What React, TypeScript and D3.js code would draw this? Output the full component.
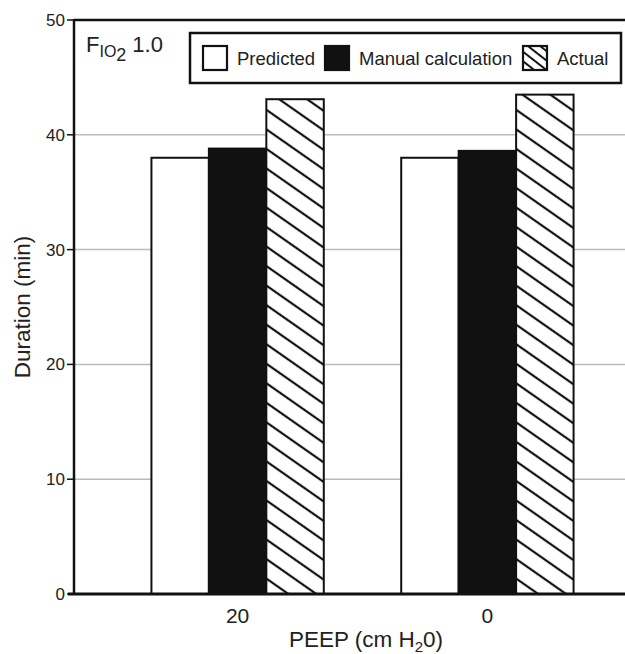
import React from "react";
import * as d3 from "d3";

const categories = ["20", "0"];
const seriesNames = ["Predicted", "Manual calculation", "Actual"];
const predicted = [38.0, 38.0];
const manual = [38.8, 38.6];
const actual = [43.1, 43.5];
const yTicks = [0, 10, 20, 30, 40, 50];

const W = 625;
const H = 654;
const font = "'Liberation Sans', Arial, Helvetica, sans-serif";

const App = () => {
  const left = 74;
  const top = 20;
  const bottom = 594;

  const y = d3.scaleLinear().domain([0, 50]).range([bottom, top]);
  const x0 = d3
    .scaleBand()
    .domain(categories)
    .range([left, 651])
    .paddingInner(0.31)
    .paddingOuter(0.31);
  const x1 = d3.scaleBand().domain(seriesNames).range([0, x0.bandwidth()]);

  const values = [predicted, manual, actual];
  const fills = ["#fff", "#111", "url(#hatch)"];

  const rows = categories.map((c, ci) =>
    seriesNames.map((s, si) => ({ c, s, si, v: values[si][ci] }))
  );

  const legend = [
    { label: seriesNames[0], x: 203, fill: "#fff" },
    { label: seriesNames[1], x: 325, fill: "#111" },
    { label: seriesNames[2], x: 523, fill: "url(#hatchSmall)" },
  ];

  return (
    <svg
      width={W}
      height={H}
      style={{ position: "absolute", left: 0, top: 0, background: "#fff" }}
      fontFamily={font}
    >
      <defs>
        <pattern
          id="hatch"
          patternUnits="userSpaceOnUse"
          width={16}
          height={16}
          patternTransform="rotate(35)"
        >
          <rect width={16} height={16} fill="#fff" />
          <line x1={0} y1={8} x2={16} y2={8} stroke="#111" strokeWidth={2.2} />
        </pattern>
        <pattern
          id="hatchSmall"
          patternUnits="userSpaceOnUse"
          width={7.5}
          height={7.5}
          patternTransform="rotate(38)"
        >
          <rect width={7.5} height={7.5} fill="#fff" />
          <line x1={0} y1={3.75} x2={7.5} y2={3.75} stroke="#111" strokeWidth={2} />
        </pattern>
      </defs>

      {/* grid */}
      {yTicks
        .filter((t) => t > 0 && t < 50)
        .map((t) => (
          <line
            key={t}
            x1={left}
            x2={W}
            y1={y(t)}
            y2={y(t)}
            stroke="#bbb"
            strokeWidth={1.5}
          />
        ))}

      {/* bars */}
      {rows.map((r, i) => (
        <g key={i} transform={`translate(${x0(categories[i])},0)`}>
          {r.map((d) => (
            <rect
              key={d.s}
              x={x1(d.s)}
              y={y(d.v)}
              width={x1.bandwidth()}
              height={y(0) - y(d.v)}
              fill={fills[d.si]}
              stroke="#111"
              strokeWidth={2}
            />
          ))}
        </g>
      ))}

      {/* frame */}
      <line x1={left} x2={W} y1={top} y2={top} stroke="#111" strokeWidth={2.5} />
      <line x1={left} x2={left} y1={top - 1} y2={bottom} stroke="#111" strokeWidth={2.5} />
      <line x1={left - 6} x2={W} y1={bottom} y2={bottom} stroke="#111" strokeWidth={3} />

      {/* y ticks */}
      {yTicks.map((t) => (
        <g key={t}>
          <line x1={left - 7} x2={left} y1={y(t)} y2={y(t)} stroke="#111" strokeWidth={1.5} />
          <text
            x={left - 9}
            y={y(t)}
            dy="0.35em"
            textAnchor="end"
            fontSize={17}
            fill="#222"
          >
            {t}
          </text>
        </g>
      ))}

      {/* x labels */}
      {categories.map((c) => (
        <text
          key={c}
          x={(x0(c) as number) + x0.bandwidth() / 2}
          y={623}
          textAnchor="middle"
          fontSize={21}
          fill="#222"
        >
          {c}
        </text>
      ))}
      <text x={366} y={647} textAnchor="middle" fontSize={22.5} fill="#222">
        PEEP (cm H
        <tspan fontSize={15} dy={5}>2</tspan>
        <tspan dy={-5}>0)</tspan>
      </text>
      <text
        transform={`translate(30,307) rotate(-90)`}
        textAnchor="middle"
        fontSize={22.5}
        fill="#222"
      >
        Duration (min)
      </text>

      {/* FIO2 label */}
      <text x={86} y={52} fontSize={22} fill="#222">
        F
        <tspan fontSize={16} dy={5}>IO</tspan>
        <tspan fontSize={18} dy={4}>2</tspan>
        <tspan fontSize={22} dy={-9} dx={6}>1.0</tspan>
      </text>

      {/* legend */}
      <rect x={190} y={33} width={431} height={50} fill="#fff" stroke="#111" strokeWidth={2.5} />
      {legend.map((l) => (
        <g key={l.label}>
          <rect x={l.x} y={46} width={24} height={24} fill={l.fill} stroke="#111" strokeWidth={2.2} />
          <text x={l.x + 34} y={65} fontSize={18.5} fill="#222">
            {l.label}
          </text>
        </g>
      ))}
    </svg>
  );
};

export default App;
